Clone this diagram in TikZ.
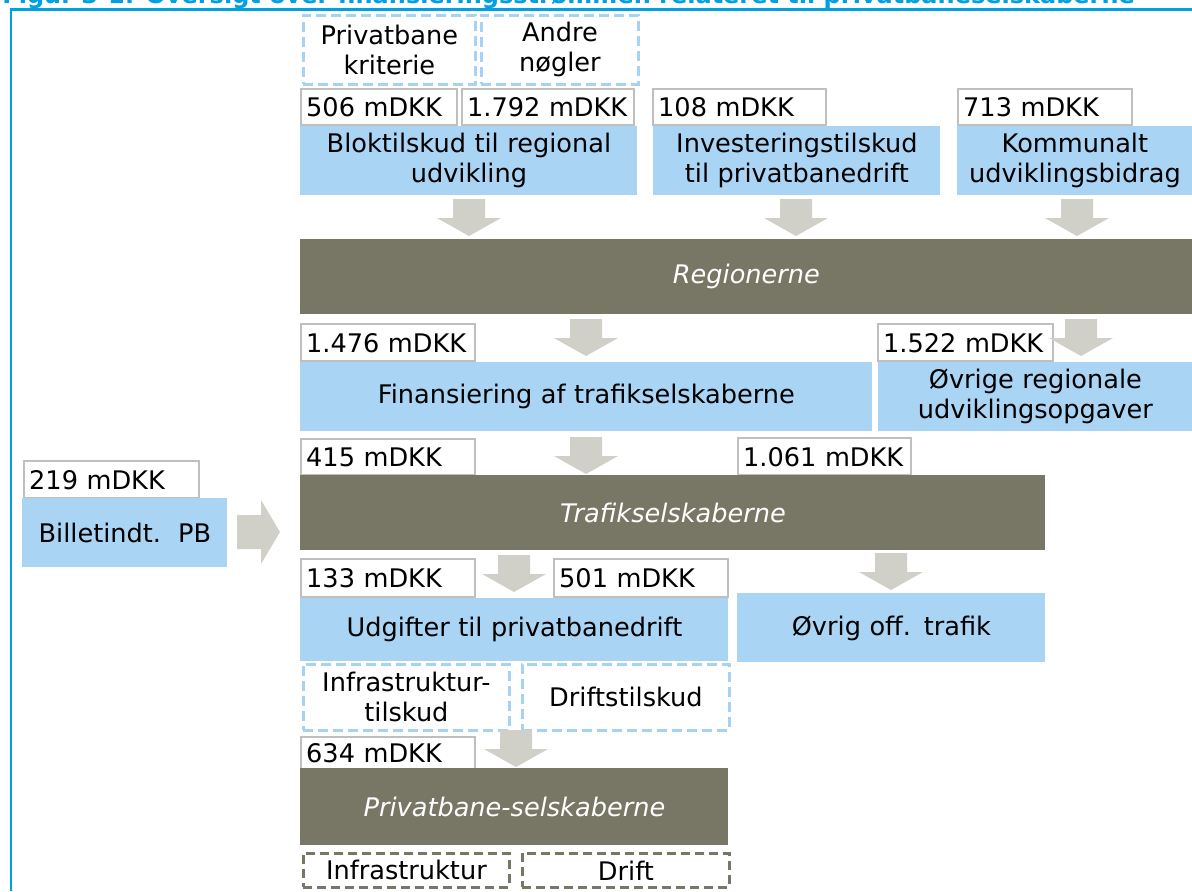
\documentclass[tikz,border=0pt]{standalone}
\usepackage{fontspec}
\setmainfont{DejaVu Sans}
\definecolor{lblue}{HTML}{A9D4F4}
\definecolor{dashblue}{HTML}{A6D2F3}
\definecolor{olive}{HTML}{787665}
\definecolor{agray}{HTML}{D0D0C8}
\definecolor{vgray}{HTML}{BFBFBF}
\definecolor{fblue}{HTML}{00A0E3}
\tikzset{
  valbox/.style={draw=vgray, line width=1.2pt, fill=white, align=left, font=\fontsize{12.8}{15}\selectfont},
  bluebox/.style={fill=lblue, align=center, font=\fontsize{12.8}{15}\selectfont},
  darkbar/.style={fill=olive, text=white, align=center, font=\fontsize{12.8}{15}\selectfont\itshape},
  dashbox/.style={draw=dashblue, line width=1.4pt, dash pattern=on 5pt off 2.5pt, align=center, font=\fontsize{12.8}{15}\selectfont},
  dashdark/.style={draw=olive, line width=1.4pt, dash pattern=on 4.5pt off 2.5pt, align=center, font=\fontsize{12.8}{15}\selectfont},
  blockarrow/.style={fill=agray},
}
\newcommand\mkbox[7]{%
  \pgfmathsetlengthmacro\mkw{(#5-#3)*0.5pt-5pt}%
  \pgfmathsetlengthmacro\mkh{(#6-#4)*0.5pt}%
  \node[#1, anchor=north west, inner xsep=2.5pt, inner ysep=0pt, text width=\mkw, minimum height=\mkh] (#2) at (#3,#4) {#7};}
\newcommand\downarr[2]{%
  \fill[blockarrow] (#1-16,#2) -- (#1+16,#2) -- (#1+16,#2+19) -- (#1+32,#2+19) -- (#1,#2+37) -- (#1-32,#2+19) -- (#1-16,#2+19) -- cycle;}
\begin{document}
\begin{tikzpicture}[x=0.5pt, y=-0.5pt]
\useasboundingbox (0,0) rectangle (1192,891);
% title (cut off at the top)
\begin{scope}
  \clip (0,0) rectangle (1192,8);
  \node[anchor=base west, inner sep=0pt, text=fblue, font=\fontsize{12}{14}\selectfont\bfseries] (title) at (2,3) {Figur 3-1: Oversigt over finansieringsstrømmen relateret til privatbaneselskaberne};
\end{scope}
% frame
\draw[fblue, line width=1.3pt] (11,891) -- (11,9.5) -- (1192,9.5);

% top dashed boxes
\mkbox{dashbox}{privk}{302}{14}{474}{83}{Privatbane\\kriterie}
\mkbox{dashbox}{andre}{480}{14}{637}{83}{Andre\\nøgler}

% value boxes row 1
\mkbox{valbox}{v506}{300}{88}{456}{124}{506 mDKK}
\mkbox{valbox}{v1792}{461}{88}{633}{124}{1.792 mDKK}
\mkbox{valbox}{v108}{652}{88}{825}{124}{108 mDKK}
\mkbox{valbox}{v713}{957}{88}{1131}{124}{713 mDKK}

% blue boxes row 1
\mkbox{bluebox}{blok}{300}{126}{637}{195}{Bloktilskud til regional\\udvikling}
\mkbox{bluebox}{invest}{653}{126}{940}{195}{Investeringstilskud\\til privatbanedrift}
\mkbox{bluebox}{kommune}{957}{126}{1192}{195}{Kommunalt\\udviklingsbidrag}

\downarr{469}{199}
\downarr{796}{199}
\downarr{1077}{199}

% Regionerne
\mkbox{darkbar}{regioner}{300}{239}{1192}{314}{Regionerne}

% row 2
\mkbox{valbox}{v1476}{300}{323}{474}{360}{1.476 mDKK}
\mkbox{valbox}{v1522}{877}{323}{1052}{360}{1.522 mDKK}
\downarr{586}{319}
\downarr{1081}{319}
\mkbox{bluebox}{finans}{300}{362}{872}{431}{Finansiering af trafikselskaberne}
\mkbox{bluebox}{ovrige}{878}{362}{1192}{431}{Øvrige regionale\\udviklingsopgaver}

% row 3
\mkbox{valbox}{v415}{300}{438}{474}{474}{415 mDKK}
\mkbox{valbox}{v1061}{737}{437}{910}{474}{1.061 mDKK}
\downarr{586}{437}
\mkbox{darkbar}{trafik}{300}{475}{1045}{550}{Trafikselskaberne}

% Billetindtaegter
\mkbox{valbox}{v219}{23}{460}{198}{497}{219 mDKK}
\mkbox{bluebox}{billet}{22}{498}{227}{567}{Billetindt.\ \ PB}
\fill[blockarrow] (237,515) -- (261,515) -- (261,500) -- (280,532) -- (261,564) -- (261,549) -- (237,549) -- cycle;

% row 4
\mkbox{valbox}{v133}{300}{558}{474}{596}{133 mDKK}
\mkbox{valbox}{v501}{553}{558}{727}{596}{501 mDKK}
\downarr{514}{555}
\downarr{891}{553}
\mkbox{bluebox}{udgift}{300}{598}{728}{661}{Udgifter til privatbanedrift}
\mkbox{bluebox}{ovrig}{737}{593}{1045}{662}{Øvrig off. trafik}

% dashed tilskud boxes
\mkbox{dashbox}{infratil}{302}{663}{508}{729}{Infrastruktur-\\tilskud}
\mkbox{dashbox}{drifttil}{521}{663}{728}{729}{Driftstilskud}

% row 5
\mkbox{valbox}{v634}{300}{736}{474}{768}{634 mDKK}
\downarr{516}{730}
\mkbox{darkbar}{privat}{300}{768}{728}{845}{Privatbane-selskaberne}

% bottom dashed boxes
\mkbox{dashdark}{infra}{302}{852}{508}{886}{Infrastruktur}
\mkbox{dashdark}{drift}{521}{852}{728}{886}{Drift}
\end{tikzpicture}
\end{document}
